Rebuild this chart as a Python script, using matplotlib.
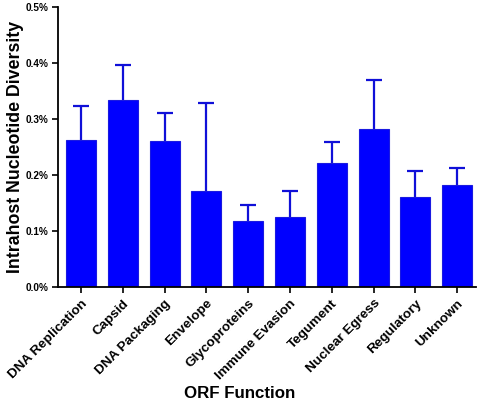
import matplotlib
matplotlib.use("Agg")
import matplotlib.pyplot as plt
from matplotlib.ticker import FuncFormatter
import numpy as np

categories = ["DNA Replication", "Capsid", "DNA Packaging", "Envelope", "Glycoproteins",
              "Immune Evasion", "Tegument", "Nuclear Egress", "Regulatory", "Unknown"]
# mean diversity (%) and upper error bar tip (%)
means = [0.262, 0.334, 0.261, 0.172, 0.118, 0.125, 0.222, 0.283, 0.160, 0.183]
err_tops = [0.323, 0.397, 0.310, 0.329, 0.146, 0.172, 0.259, 0.369, 0.208, 0.212]

plt.rcParams["font.family"] = ["Liberation Sans", "DejaVu Sans"]
plt.rcParams["font.weight"] = "bold"

fig = plt.figure(figsize=(4.83, 4.04), dpi=100)
ax = fig.add_axes([0.120, 0.2896, 0.8655, 0.6931])

x = np.arange(len(categories))
ax.bar(x, means, width=0.72, color="#0000ff", edgecolor="#1a1ae0", linewidth=0.8, zorder=2)
# one-sided (upper) error bars
ax.vlines(x, means, err_tops, color="#1010d8", linewidth=1.6, zorder=3)
ax.plot(x, err_tops, linestyle="none", marker="_", markersize=11, markeredgewidth=1.6,
        color="#1010d8", zorder=3)

ax.set_xlim(-0.55, 9.45)
ax.set_ylim(0, 0.5)
ax.set_yticks([0, 0.1, 0.2, 0.3, 0.4, 0.5])
ax.yaxis.set_major_formatter(FuncFormatter(lambda v, p: f"{v:.1f}%"))
ax.set_xticks(x)
ax.set_xticklabels(categories, rotation=45, ha="right", rotation_mode="anchor", fontsize=9.7)
ax.tick_params(axis="y", labelsize=7.2, direction="out", length=4, width=1.2, pad=3)
ax.tick_params(axis="x", direction="out", length=4, width=1.2)

for s in ["top", "right"]:
    ax.spines[s].set_visible(False)
for s in ["left", "bottom"]:
    ax.spines[s].set_linewidth(1.3)

ax.set_ylabel("Intrahost Nucleotide Diversity", fontsize=12.8, fontweight="bold", va="center")
ax.yaxis.set_label_coords(-0.101, 0.5)
ax.set_xlabel("ORF Function", fontsize=12.2, fontweight="bold", va="center")
ax.xaxis.set_label_coords(0.434, -0.379)

fig.savefig("out.png", dpi=100)
